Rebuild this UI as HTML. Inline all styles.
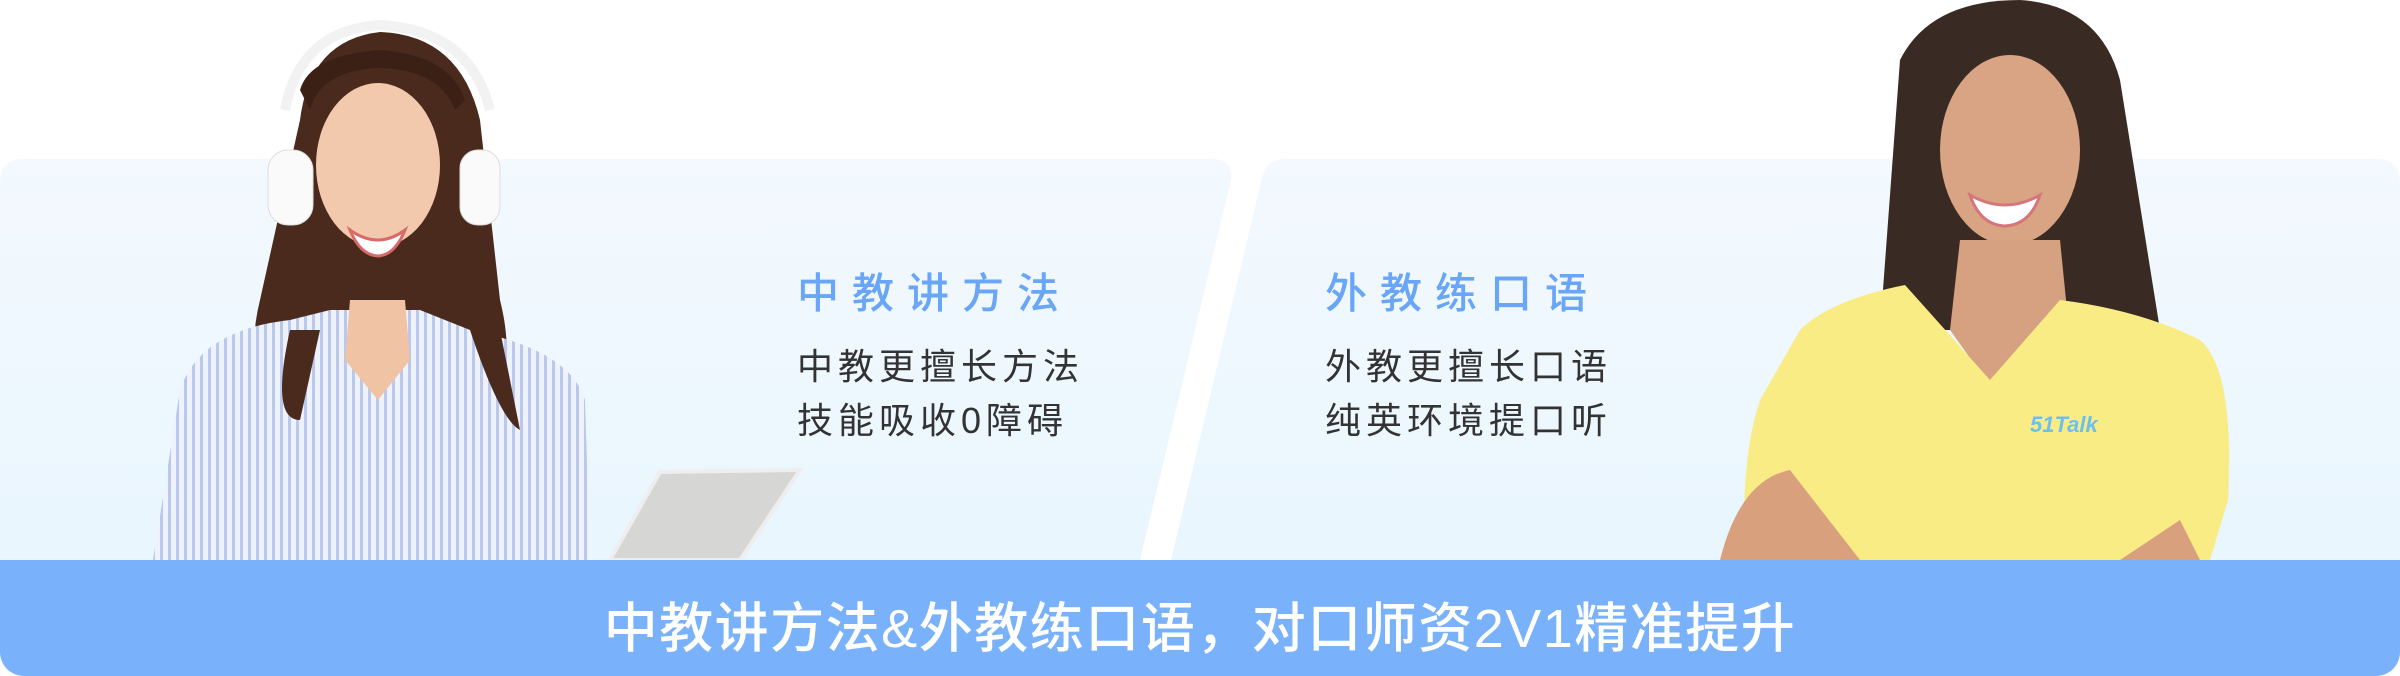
<!DOCTYPE html>
<html><head><meta charset="utf-8">
<style>
html,body{margin:0;padding:0;background:#fff;}
#c{position:relative;width:2400px;height:676px;overflow:hidden;background:#fff;font-family:"Liberation Sans","Noto Sans CJK SC",sans-serif;}
.t{position:absolute;white-space:nowrap;}
.h{font-size:42px;color:#69a6f7;letter-spacing:13px;font-weight:500;}
.b{font-size:36px;color:#333;letter-spacing:5px;line-height:54px;}
.bar{position:absolute;left:0;top:560px;width:2400px;height:116px;background:#79b2fb;border-radius:0 0 24px 24px;}
.bt{left:0;width:2400px;text-align:center;top:584px;font-size:54px;color:#fff;letter-spacing:1.5px;font-weight:500;}
</style></head><body>
<div id="c">
<svg width="2400" height="676" style="position:absolute;left:0;top:0">
<defs>
<linearGradient id="g" x1="0" y1="0" x2="0" y2="1"><stop offset="0" stop-color="#f3f9fe"/><stop offset="1" stop-color="#e9f6fe"/></linearGradient>
<pattern id="st" width="8" height="8" patternUnits="userSpaceOnUse"><rect width="8" height="8" fill="#eef2fb"/><rect width="3" height="8" fill="#b9c8ec"/></pattern>
</defs>
<path d="M24 159 H1212 Q1234 159 1231 180 L1140 560 H0 V183 Q0 159 24 159Z" fill="url(#g)"/>
<path d="M1285 159 H2376 Q2400 159 2400 183 V560 H1171 L1262 178 Q1266 159 1285 159Z" fill="url(#g)"/>
<!-- left woman -->
<path d="M300 120 Q310 40 380 32 Q460 35 480 120 L500 300 Q520 380 480 420 L290 420 Q240 380 260 300Z" fill="#4a2a1c"/>
<path d="M180 390 Q200 330 290 320 L330 310 L420 310 L470 330 Q570 350 585 400 L590 560 H153 Z" fill="url(#st)"/>
<ellipse cx="378" cy="165" rx="62" ry="82" fill="#f2c9ad"/>
<path d="M350 300 L405 300 L410 360 L378 400 L345 360Z" fill="#f0c3a5"/>
<path d="M350 230 Q378 250 405 230 Q395 255 378 256 Q360 255 350 230Z" fill="#fff" stroke="#d96a6a" stroke-width="3"/>
<path d="M300 90 Q310 55 380 50 Q450 55 465 100 L455 110 Q440 70 380 68 Q320 70 310 110Z" fill="#3b2016"/>
<rect x="268" y="150" width="45" height="75" rx="20" fill="#fafafa" stroke="#ddd"/>
<rect x="460" y="150" width="40" height="75" rx="18" fill="#fafafa" stroke="#ddd"/>
<path d="M285 110 Q300 30 380 25 Q470 30 490 110" fill="none" stroke="#f2f2f2" stroke-width="10"/>
<path d="M290 330 Q270 420 300 420 L320 330Z" fill="#4a2a1c"/>
<path d="M470 330 Q500 420 520 430 L500 330Z" fill="#4a2a1c"/>
<path d="M660 472 L800 470 L740 560 L610 560Z" fill="#d6d6d4" stroke="#eee" stroke-width="4"/>
<!-- right woman -->
<path d="M1900 60 Q1930 0 2020 0 Q2100 5 2120 80 L2160 330 H1880 Z" fill="#3a2a24"/>
<ellipse cx="2010" cy="150" rx="70" ry="95" fill="#d9a483"/>
<path d="M1970 195 Q2005 215 2040 195 Q2030 225 2005 226 Q1980 225 1970 195Z" fill="#fff" stroke="#d5767a" stroke-width="3"/>
<path d="M1960 240 L2060 240 L2070 340 L2000 400 L1950 330Z" fill="#d6a180"/>
<path d="M1800 330 Q1830 300 1905 285 L1990 380 L2060 300 Q2140 310 2200 340 Q2235 370 2228 500 L2210 560 H1745 Q1740 460 1760 400Z" fill="#f9ec84"/>
<path d="M1720 560 Q1740 480 1790 470 L1860 560Z" fill="#d9a07e"/>
<path d="M2120 560 L2180 520 L2200 560Z" fill="#d9a07e"/>
<text x="2030" y="432" font-family="Liberation Sans" font-weight="bold" font-style="italic" font-size="22" fill="#6ec0ec">51Talk</text>
</svg>
<div class="t h" style="left:797px;top:260px">中教讲方法</div>
<div class="t b" style="left:797px;top:340px">中教更擅长方法<br>技能吸收0障碍</div>
<div class="t h" style="left:1325px;top:260px">外教练口语</div>
<div class="t b" style="left:1325px;top:340px">外教更擅长口语<br>纯英环境提口听</div>
<div class="bar"></div>
<div class="t bt">中教讲方法&amp;外教练口语，对口师资2V1精准提升</div>
</div>
</body></html>
